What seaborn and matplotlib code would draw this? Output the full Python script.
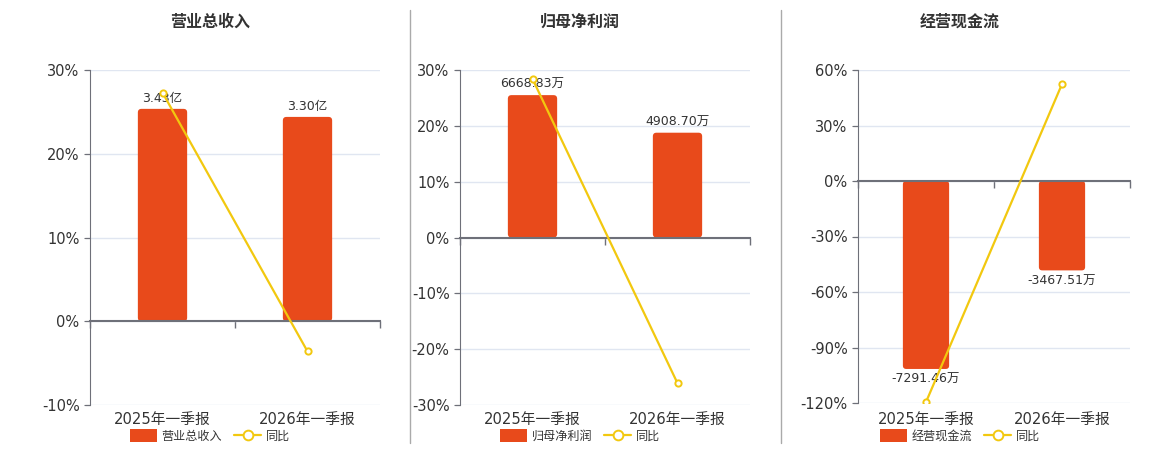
import matplotlib
matplotlib.use("Agg")
import matplotlib.pyplot as plt
import seaborn as sns
from matplotlib.patches import Patch, FancyBboxPatch
from matplotlib.lines import Line2D

sns.set_style("white")
plt.rcParams['font.family'] = ['DejaVu Sans', 'Noto Sans CJK SC']

categories = ['2025年一季报', '2026年一季报']

revenue = [3.43, 3.30]          # 亿
revenue_yoy = [27.3, -3.6]      # %
profit = [6668.83, 4908.70]     # 万
profit_yoy = [28.4, -26.1]
cashflow = [-7291.46, -3467.51] # 万
cashflow_yoy = [-119.5, 52.4]

titles = ['营业总收入', '归母净利润', '经营现金流']
units = ['亿', '万', '万']
pct_ticks = [[-10, 0, 10, 20, 30],
             [-30, -20, -10, 0, 10, 20, 30],
             [-120, -90, -60, -30, 0, 30, 60]]
# bar units per percent, so the bar axis zero lines up with the percent axis
bar_scale = [3.43 / 25.36, 6668.83 / 25.5, 7291.46 / 101.6]

BAR = '#E84A1B'
LINE = '#F2C80F'
AXC = '#6E7079'
GRID = '#E0E6F1'
TXT = '#333333'

W, H = 1160, 450
fig = plt.figure(figsize=(W / 100, H / 100), dpi=100)

boxes = [(90, 380, 70, 405), (460, 750, 70, 405), (858, 1130, 70, 403)]
centers = [210, 580, 960]

series = [(revenue, revenue_yoy), (profit, profit_yoy), (cashflow, cashflow_yoy)]

for i, (vals, yoy) in enumerate(series):
    l, r, t, b = boxes[i]
    ax = fig.add_axes([l / W, 1 - b / H, (r - l) / W, (b - t) / H])
    ticks = pct_ticks[i]
    k = bar_scale[i]

    sns.barplot(x=categories, y=vals, ax=ax, color=BAR, width=0.34,
                saturation=1, edgecolor='none')
    ax.set_ylim(ticks[0] * k, ticks[-1] * k)
    ax.set_yticks([v * k for v in ticks])
    ax.yaxis.grid(True, color=GRID, linewidth=1)
    ax.set_axisbelow(True)
    ax.tick_params(axis='y', left=False, labelleft=False)
    labels = [f'{v:.2f}{units[i]}' for v in vals]
    ax.bar_label(ax.containers[0], labels=labels, padding=3, fontsize=9, color=TXT)

    # rounded corners on the bar ends
    asp = (ax.get_ylim()[1] - ax.get_ylim()[0]) / (b - t) / (2.0 / (r - l))
    for p in ax.containers[0]:
        x0, y0, w, h = p.get_x(), p.get_y(), p.get_width(), p.get_height()
        rb = FancyBboxPatch((x0, min(y0, y0 + h)), w, abs(h),
                            boxstyle='round,pad=0,rounding_size=0.025',
                            mutation_aspect=asp, facecolor=BAR, edgecolor='none',
                            zorder=p.get_zorder())
        p.set_visible(False)
        ax.add_patch(rb)

    for s in ['top', 'right']:
        ax.spines[s].set_visible(False)
    ax.spines['left'].set_color(AXC)
    ax.spines['bottom'].set_color(AXC)
    ax.spines['bottom'].set_position(('data', 0))
    ax.spines['bottom'].set_linewidth(1.5)
    ax.spines['bottom'].set_zorder(5)
    ax.set_xlim(-0.5, 1.5)
    ax.set_xticks([])
    ax.set_xticks([-0.5, 0.5, 1.5], minor=True)
    ax.tick_params(axis='x', which='minor', bottom=True, length=5, width=1,
                   color=AXC, labelbottom=False)
    ax.set_xlabel('')

    sec = ax.secondary_xaxis(0)
    sec.set_xticks([0, 1], labels=categories)
    sec.tick_params(length=0, labelsize=10.6, labelcolor=TXT, pad=5 + (405 - b) * 0.7)
    sec.spines['bottom'].set_visible(False)

    ax2 = ax.twinx()
    sns.lineplot(x=[0, 1], y=yoy, ax=ax2, color=LINE, linewidth=1.6,
                 marker='o', markersize=4.5, markerfacecolor='white',
                 markeredgecolor=LINE, markeredgewidth=1.4)
    ax2.set_ylim(ticks[0], ticks[-1])
    ax2.set_yticks(ticks, labels=[f'{v}%' for v in ticks])
    ax2.yaxis.tick_left()
    ax2.tick_params(axis='y', length=4, color=AXC, labelsize=10.5, labelcolor=TXT)
    ax2.set_xlim(-0.5, 1.5)
    for s in ax2.spines.values():
        s.set_visible(False)
    ax2.set_ylabel('')

    fig.text(centers[i] / W, 1 - 22 / H, titles[i], ha='center', va='center',
             fontsize=11.5, fontweight='bold', color=TXT)
    handles = [Patch(facecolor=BAR, edgecolor='none'),
               Line2D([], [], color=LINE, linewidth=1.6, marker='o', markersize=7,
                      markerfacecolor='white', markeredgecolor=LINE, markeredgewidth=1.4)]
    fig.legend(handles, [titles[i], '同比'], loc='center', ncol=2, frameon=False,
               bbox_to_anchor=(centers[i] / W, 1 - 436 / H), fontsize=8.7,
               handlelength=2.2, handleheight=1.3, handletextpad=0.4,
               columnspacing=1.0, labelcolor=TXT)

for x in [410, 781]:
    fig.add_artist(Line2D([x / W, x / W], [1 - 10 / H, 1 - 443 / H],
                          color='#AAAAAA', linewidth=1))

fig.savefig('out.png', dpi=100)
